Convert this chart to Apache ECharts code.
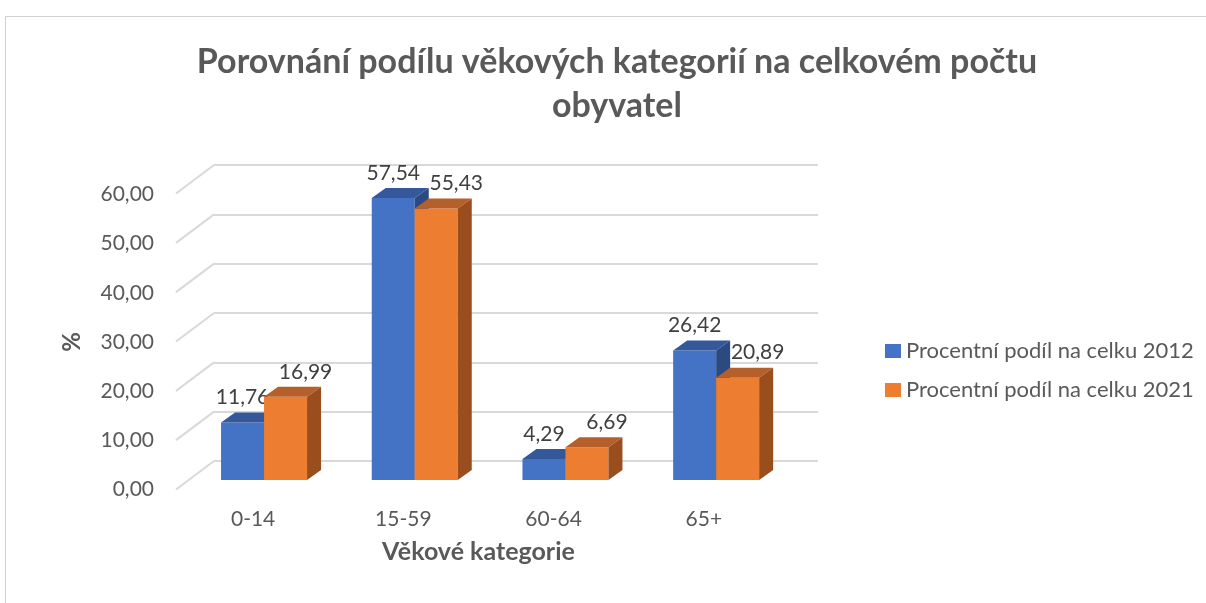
<!DOCTYPE html>
<html>
<head>
<meta charset="utf-8">
<script src="https://cdn.jsdelivr.net/npm/echarts@6/dist/echarts.min.js"></script>
<style>html,body{margin:0;padding:0;background:#fff;}#c{width:1206px;height:603px;}</style>
</head>
<body>
<div id="c"></div>
<script>
const categories = ['0-14', '15-59', '60-64', '65+'];
const values2012 = [11.76, 57.54, 4.29, 26.42];
const values2021 = [16.99, 55.43, 6.69, 20.89];
const yTicks = [0, 10, 20, 30, 40, 50, 60];
const seriesNames = ['Procentní podíl na celku 2012', 'Procentní podíl na celku 2021'];
const titleText = 'Porovnání podílu věkových kategorií na celkovém počtu\nobyvatel';
const xName = 'Věkové kategorie';
const yName = '%';

const FONT = 'Lato';
const fmt = v => Number(v).toFixed(2).replace('.', ',');

function makeRender(k, front, topC, sideC, labelDx) {
  return function (params, api) {
    const ci = api.value(0), v = api.value(1);
    const top = api.coord([ci, v]);
    const base = api.coord([ci, 0]);
    const band = api.size([1, 0])[0];
    const w = band * 0.2853;
    const x0 = k === 0 ? top[0] - w : top[0];
    const x1 = x0 + w;
    const dx = 14, dy = 10;
    const yt = top[1], yb = base[1];
    return {
      type: 'group',
      children: [
        { type: 'rect', shape: { x: x0, y: yt, width: w, height: yb - yt }, style: { fill: front } },
        { type: 'polygon', shape: { points: [[x0, yt], [x1, yt], [x1 + dx, yt - dy], [x0 + dx, yt - dy]] }, style: { fill: topC } },
        { type: 'polygon', shape: { points: [[x1, yt], [x1 + dx, yt - dy], [x1 + dx, yb - dy], [x1, yb]] }, style: { fill: sideC } },
        { type: 'text', x: (x0 + x1) / 2 + labelDx, y: yt - 25,
          style: { text: fmt(v), align: 'center', verticalAlign: 'middle', fill: '#404040', fontSize: 21, fontFamily: FONT } }
      ]
    };
  };
}

const chart = echarts.init(document.getElementById('c'), null, { renderer: 'canvas' });
chart.setOption({
  backgroundColor: '#ffffff',
  animation: false,
  graphic: [{
    type: 'rect', left: 3, top: 14, shape: { width: 1260, height: 650 },
    style: { fill: 'none', stroke: '#D0D0D0', lineWidth: 1 }, z: -1
  }],
  title: {
    text: titleText, left: 612, top: 35, textAlign: 'center',
    textStyle: { fontFamily: FONT, fontSize: 34, fontWeight: 'bold', color: '#595959', lineHeight: 44 }
  },
  legend: {
    orient: 'vertical', left: 880, top: 335, itemWidth: 16, itemHeight: 14, itemGap: 17,
    icon: 'rect', data: seriesNames,
    textStyle: { fontFamily: FONT, fontSize: 22, color: '#595959' }
  },
  grid: [
    { left: 188.7, right: 1206 - 791.5, top: 186, bottom: 603 - 480 },
    { left: 214, right: 1206 - 818, top: 165, bottom: 603 - 461 },
    { left: 178, right: 1206 - 779, top: 194.5, bottom: 603 - 489.5 }
  ],
  xAxis: [
    { gridIndex: 0, type: 'category', data: categories, show: false },
    { gridIndex: 1, type: 'value', min: 0, max: 1, show: false },
    { gridIndex: 2, type: 'category', data: categories,
      axisLine: { show: false }, axisTick: { show: false },
      axisLabel: { margin: 19, fontFamily: FONT, fontSize: 21, color: '#595959' },
      name: xName, nameLocation: 'middle', nameGap: 50,
      nameTextStyle: { fontFamily: FONT, fontSize: 25, fontWeight: 'bold', color: '#595959' } }
  ],
  yAxis: [
    { gridIndex: 0, type: 'value', min: 0, max: 60, interval: 10, show: false },
    { gridIndex: 1, type: 'value', min: 0, max: 60, interval: 10,
      axisLine: { show: false }, axisTick: { show: false }, axisLabel: { show: false },
      splitLine: { show: true, lineStyle: { color: '#D9D9D9', width: 2 } } },
    { gridIndex: 2, type: 'value', min: 0, max: 60, interval: 10,
      axisLine: { show: false }, axisTick: { show: false }, splitLine: { show: false },
      axisLabel: { margin: 24, formatter: v => fmt(v), fontFamily: FONT, fontSize: 21, color: '#595959' },
      name: yName, nameLocation: 'middle', nameGap: 94, nameRotate: 90,
      nameTextStyle: { fontFamily: FONT, fontSize: 24, fontWeight: 'bold', color: '#595959' } }
  ],
  series: [
    { type: 'custom', name: 'floorDiag', xAxisIndex: 1, yAxisIndex: 1, silent: true, z: 1,
      data: yTicks.map(v => [0, v]),
      renderItem: function (params, api) {
        const p = api.coord([0, api.value(1)]);
        return { type: 'line', shape: { x1: p[0], y1: p[1], x2: p[0] - 38, y2: p[1] + 28.5 },
          style: { stroke: '#D9D9D9', lineWidth: 2 } };
      } },
    { type: 'custom', name: seriesNames[0], xAxisIndex: 0, yAxisIndex: 0, z: 3,
      itemStyle: { color: '#4472C4' },
      data: values2012.map((v, i) => [i, v]),
      renderItem: makeRender(0, '#4472C4', '#34589A', '#2C4A82', 0) },
    { type: 'custom', name: seriesNames[1], xAxisIndex: 0, yAxisIndex: 0, z: 4,
      itemStyle: { color: '#ED7D31' },
      data: values2021.map((v, i) => [i, v]),
      renderItem: makeRender(1, '#ED7D31', '#B5602A', '#9A4E1E', 20) }
  ]
});
</script>
</body>
</html>
